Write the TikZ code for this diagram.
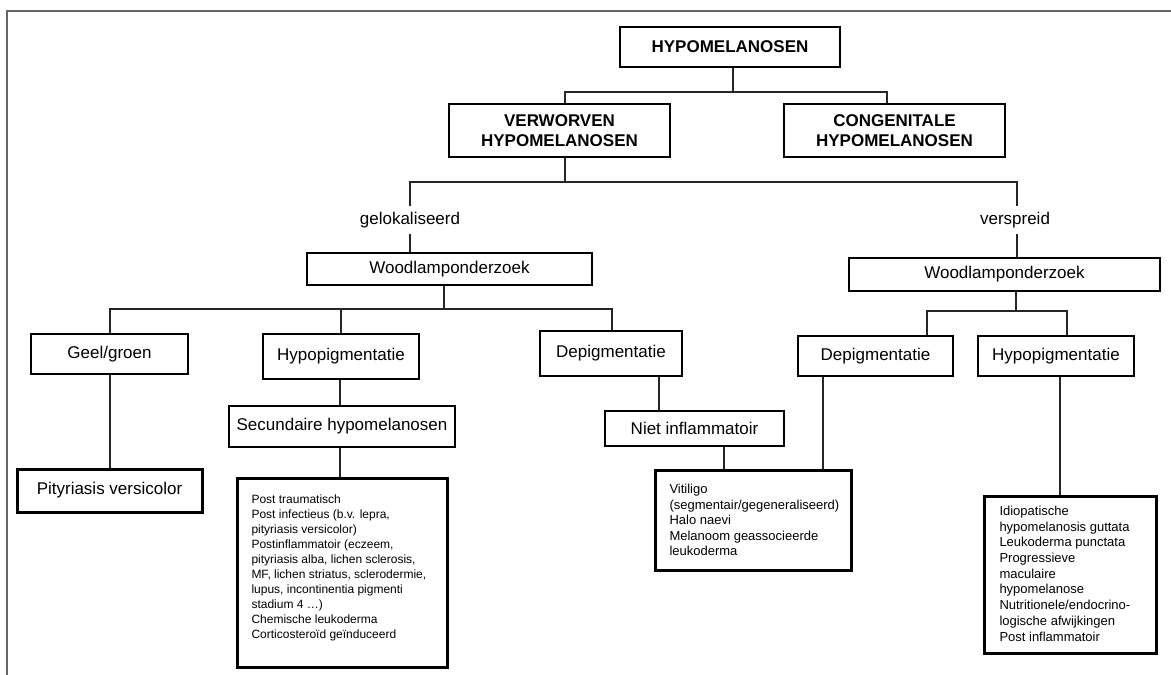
\documentclass[tikz,border=0pt]{standalone}
\usepackage{fontspec}
\setmainfont{Liberation Sans}
\begin{document}
\begin{tikzpicture}[x=1pt,y=-1pt,
  box/.style={draw=black, line width=1.1pt, inner sep=0pt, align=center, font=\fontsize{17}{20}\selectfont},
  hdr/.style={box, font=\bfseries\fontsize{17}{19.5}\selectfont},
  lbl/.style={inner xsep=2pt, inner ysep=5.5pt, font=\fontsize{17}{20}\selectfont},
  lst/.style={draw=black, line width=3pt, inner sep=0pt, anchor=north west},
  conn/.style={draw=black!85, line width=1.1pt},
  frameline/.style={draw=black!60, line width=2pt}]
\useasboundingbox (0,0) rectangle (1171,675);
\fill[white] (0,0) rectangle (1171,675);
\draw[frameline] (7,675) -- (7,11) -- (1171,11);

% nodes
\node[hdr, minimum width=220pt, minimum height=40pt] (top) at (730,47) {HYPOMELANOSEN};
\node[hdr, minimum width=221pt, minimum height=53pt] (verw) at (559.5,130.5) {VERWORVEN\\HYPOMELANOSEN};
\node[hdr, minimum width=221pt, minimum height=53pt] (cong) at (894.5,130.5) {CONGENITALE\\HYPOMELANOSEN};
\node[lbl] (gel) at (410,220) {gelokaliseerd};
\node[lbl] (ver) at (1015,220) {verspreid};
\node[box, minimum width=285pt, minimum height=32pt] (wlL) at (449.5,269) {Woodlamponderzoek};
\node[box, minimum width=311pt, minimum height=33pt] (wlR) at (1004.5,274.5) {Woodlamponderzoek};
\node[box, minimum width=157pt, minimum height=40pt] (geel) at (109.5,354) {Geel/groen};
\node[box, minimum width=156pt, minimum height=45pt] (hypL) at (341,356.5) {Hypopigmentatie};
\node[box, minimum width=142pt, minimum height=45pt] (depL) at (611,353.5) {Depigmentatie};
\node[box, minimum width=155pt, minimum height=40pt] (depR) at (875.5,356) {Depigmentatie};
\node[box, minimum width=156pt, minimum height=40pt] (hypR) at (1056,356) {Hypopigmentatie};
\node[box, line width=3pt, minimum width=185pt, minimum height=43pt] (pity) at (109.5,490.5) {Pityriasis versicolor};
\node[box, minimum width=226pt, minimum height=41pt] (sec) at (342,426.5) {Secundaire hypomelanosen};
\node[box, minimum width=179pt, minimum height=35pt] (niet) at (694.5,428.5) {Niet inflammatoir};

\node[lst, font=\fontsize{12}{15}\selectfont] (big) at (236,477) {\parbox[t][189pt][t]{210pt}{\vspace*{14.5pt}\noindent\hspace*{14pt}\begin{tabular}[t]{@{}l@{}}
Post traumatisch\\
Post infectieus (b.v. lepra,\\
pityriasis versicolor)\\
Postinflammatoir (eczeem,\\
pityriasis alba, lichen sclerosis,\\
MF, lichen striatus, sclerodermie,\\
lupus, incontinentia pigmenti\\
stadium 4 …)\\
Chemische leukoderma\\
Corticosteroïd geïnduceerd
\end{tabular}}};

\node[lst, font=\fontsize{13}{15.6}\selectfont] (vit) at (654,469) {\parbox[t][100pt][t]{196pt}{\vspace*{12.1pt}\noindent\hspace*{14pt}\begin{tabular}[t]{@{}l@{}}
Vitiligo\\
(segmentair/gegeneraliseerd)\\
Halo naevi\\
Melanoom geassocieerde\\
leukoderma
\end{tabular}}};

\node[lst, font=\fontsize{13}{15.7}\selectfont] (rbox) at (983,495) {\parbox[t][157pt][t]{172pt}{\vspace*{8pt}\noindent\hspace*{15pt}\begin{tabular}[t]{@{}l@{}}
Idiopatische\\
hypomelanosis guttata\\
Leukoderma punctata\\
Progressieve\\
maculaire\\
hypomelanose\\
Nutritionele/endocrino-\\
logische afwijkingen\\
Post inflammatoir
\end{tabular}}};

% connectors
\coordinate (a0) at (733,92);
\coordinate (a1) at (565,92);
\coordinate (a2) at (887,92);
\draw[conn] (top.south -| a0) -- (a0);
\draw[conn] (verw.north -| a1) -- (a1) -- (a2) -- (cong.north -| a2);

\coordinate (b0) at (565,182);
\coordinate (b1) at (410,182);
\coordinate (b2) at (1017,182);
\draw[conn] (verw.south -| b0) -- (b0);
\draw[conn] (gel.north -| b1) -- (b1) -- (b2) -- (ver.north -| b2);
\draw[conn] (gel.south -| b1) -- (wlL.north -| b1);
\draw[conn] (ver.south -| b2) -- (wlR.north -| b2);

\coordinate (c0) at (444,309);
\coordinate (c1) at (110,309);
\coordinate (c2) at (341,309);
\coordinate (c3) at (612,309);
\draw[conn] (wlL.south -| c0) -- (c0);
\draw[conn] (geel.north -| c1) -- (c1) -- (c3) -- (depL.north -| c3);
\draw[conn] (hypL.north -| c2) -- (c2);

\coordinate (d0) at (1016,311);
\coordinate (d1) at (927,311);
\coordinate (d2) at (1067,311);
\draw[conn] (wlR.south -| d0) -- (d0);
\draw[conn] (depR.north -| d1) -- (d1) -- (d2) -- (hypR.north -| d2);

\coordinate (e0) at (110,0);
\coordinate (e1) at (340,0);
\coordinate (e2) at (659,0);
\coordinate (e3) at (724,0);
\coordinate (e4) at (823,0);
\coordinate (e5) at (1060,0);
\draw[conn] (geel.south -| e0) -- (pity.north -| e0);
\draw[conn] (hypL.south -| e1) -- (sec.north -| e1);
\draw[conn] (sec.south -| e1) -- (big.north -| e1);
\draw[conn] (depL.south -| e2) -- (niet.north -| e2);
\draw[conn] (niet.south -| e3) -- (vit.north -| e3);
\draw[conn] (depR.south -| e4) -- (vit.north -| e4);
\draw[conn] (hypR.south -| e5) -- (rbox.north -| e5);
\end{tikzpicture}
\end{document}
